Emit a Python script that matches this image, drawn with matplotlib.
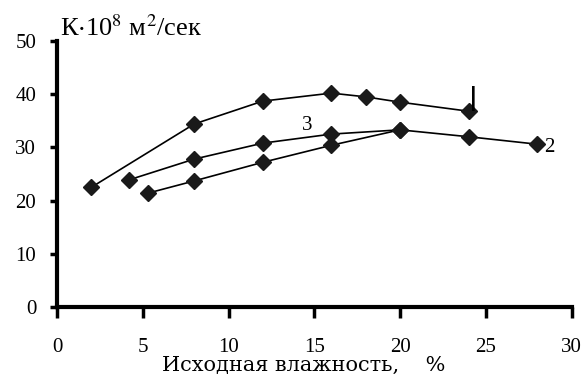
import matplotlib.pyplot as plt

plt.rcParams['font.family'] = ['Liberation Serif', 'DejaVu Serif']
plt.rcParams['mathtext.fontset'] = 'stix'

# кривая 1
x1 = [2, 8, 12, 16, 18, 20, 24]
y1 = [22.5, 34.4, 38.7, 40.2, 39.5, 38.5, 36.8]
# кривая 2
x2 = [5.3, 8, 12, 16, 20, 24, 28]
y2 = [21.4, 23.7, 27.2, 30.4, 33.3, 32.0, 30.6]
# кривая 3
x3 = [4.2, 8, 12, 16, 20]
y3 = [23.9, 27.8, 30.8, 32.5, 33.3]

fig = plt.figure(figsize=(5.82, 3.76), dpi=100)
ax = fig.add_axes([0.098, 0.1835, 0.884, 0.7075])

for xs, ys in [(x1, y1), (x2, y2), (x3, y3)]:
    ax.plot(xs, ys, color='black', linewidth=1.2, marker='D', markersize=8,
            markerfacecolor='#1a1a1a', markeredgecolor='#1a1a1a', clip_on=False)

# подписи кривых
ax.text(24.25, 36.8, '|', fontsize=17, fontweight='bold', family='DejaVu Sans',
        ha='center', va='bottom')
ax.text(28.4, 30.0, '2', fontsize=15, ha='left', va='center')
ax.text(14.6, 32.3, '3', fontsize=15, ha='center', va='bottom')

ax.set_xlim(0, 30)
ax.set_ylim(0, 50)
ax.set_xticks([0, 5, 10, 15, 20, 25, 30])
ax.set_yticks([0, 10, 20, 30, 40, 50])

for s in ['top', 'right']:
    ax.spines[s].set_visible(False)
for s in ['left', 'bottom']:
    ax.spines[s].set_linewidth(3)
ax.tick_params(direction='out', width=2.5, labelsize=15)
ax.tick_params(axis='x', length=8, pad=14)
ax.tick_params(axis='y', length=5, pad=10)

fig.text(0.103, 0.925, r'К$\cdot$10$^8$ м$^2$/сек', fontsize=19, ha='left', va='center')
fig.text(0.278, 0.027, 'Исходная влажность,    %', fontsize=15, family='DejaVu Serif',
         ha='left', va='center')

plt.savefig('out.png', dpi=100)
